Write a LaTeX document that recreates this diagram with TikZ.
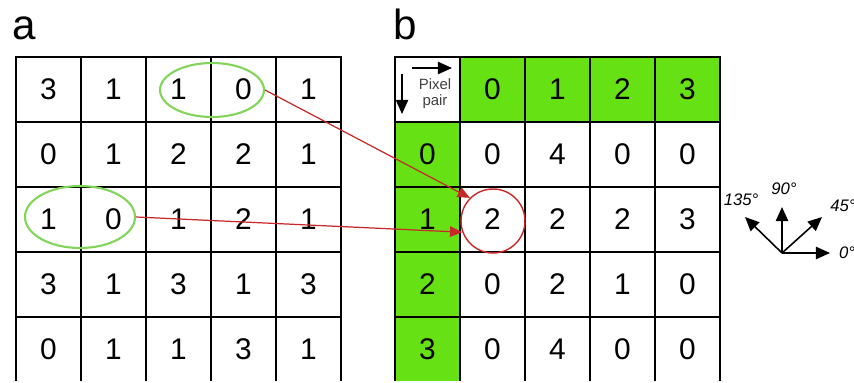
\documentclass[tikz,border=0pt]{standalone}
\usepackage{fontspec}
\setmainfont{Liberation Sans}
\usetikzlibrary{arrows.meta,shapes.geometric}
\definecolor{cellgreen}{RGB}{102,226,20}
\definecolor{ringgreen}{RGB}{130,212,90}
\definecolor{pairred}{RGB}{200,40,40}
\tikzset{
  cell/.style={draw, line width=1.1pt, minimum width=1.3cm, minimum height=1.3cm, inner sep=0pt, font=\fontsize{17}{20}\selectfont},
  head/.style={cell, fill=cellgreen},
  ring/.style={draw=ringgreen, line width=1.2pt, ellipse, inner sep=0pt},
  link/.style={draw=pairred, line width=0.7pt, -{Triangle[length=7pt,width=6pt]}},
  dir/.style={line width=0.9pt, -{Triangle[length=8pt,width=7pt]}},
  deg/.style={font=\itshape\fontsize{9.5}{10}\selectfont, inner sep=0pt}
}
\begin{document}
\begin{tikzpicture}[x=0.02cm, y=-0.02cm]
  \useasboundingbox (0,0) rectangle (854,382);
  \clip (0,0) rectangle (854,380.8);
  % Panel labels
  \node[font=\fontsize{24}{26}\selectfont, anchor=base west, inner sep=0pt] (la) at (12,39) {a};
  \node[font=\fontsize{24}{26}\selectfont, anchor=base west, inner sep=0pt] (lb) at (393,39) {b};
  % Image a
  \foreach \row [count=\r from 0] in {{3,1,1,0,1},{0,1,2,2,1},{1,0,1,2,1},{3,1,3,1,3},{0,1,1,3,1}}
    \foreach \v [count=\c from 0] in \row
      \node[cell] (a-\r-\c) at (48.5+65*\c, 89.5+65*\r) {\v};
  % Matrix b
  \node[cell] (b-0-0) at (427.5,89.5) {};
  \foreach \v [count=\c] in {0,1,2,3}
    \node[head] (b-0-\c) at (427.5+65*\c, 89.5) {\v};
  \foreach \v [count=\r] in {0,1,2,3}
    \node[head] (b-\r-0) at (427.5, 89.5+65*\r) {\v};
  \foreach \row [count=\r] in {{0,4,0,0},{2,2,2,3},{0,2,1,0},{0,4,0,0}}
    \foreach \v [count=\c] in \row
      \node[cell] (b-\r-\c) at (427.5+65*\c, 89.5+65*\r) {\v};
  % Pixel pair corner
  \node[font=\fontsize{8.5}{9}\selectfont, text=black!75, align=center, inner sep=0pt] (pp) at (435,94) {Pixel\\pair};
  \coordinate (px0) at (412,68);
  \coordinate (px1) at (452,68);
  \coordinate (py0) at (402,74);
  \coordinate (py1) at (402,114);
  \draw[dir, line width=0.7pt] (px0) -- (px1);
  \draw[dir, line width=0.7pt] (py0) -- (py1);
  % Pairs and counted entry
  \node[ring, minimum width=2.08cm, minimum height=1.08cm] (p1) at (212,90) {};
  \node[ring, minimum width=2.2cm, minimum height=1.24cm] (p2) at (80,217) {};
  \node[draw=pairred, circle, minimum size=1.28cm, line width=0.8pt] (hit) at (493,221) {};
  \draw[link] (p1.east) -- (hit.135);
  \draw[link] (p2.east) -- (hit.200);
  % Directions
  \coordinate (o) at (782,253);
  \coordinate (d0) at (830,253);
  \coordinate (d45) at (822,217);
  \coordinate (d90) at (782,207);
  \coordinate (d135) at (745,217);
  \foreach \d in {d0,d45,d90,d135}
    \draw[dir] (o) -- (\d);
  \node[deg] (l0) at (847,253) {0°};
  \node[deg] (l45) at (843,206) {45°};
  \node[deg] (l90) at (784,189) {90°};
  \node[deg] (l135) at (741,200) {135°};
\end{tikzpicture}
\end{document}
